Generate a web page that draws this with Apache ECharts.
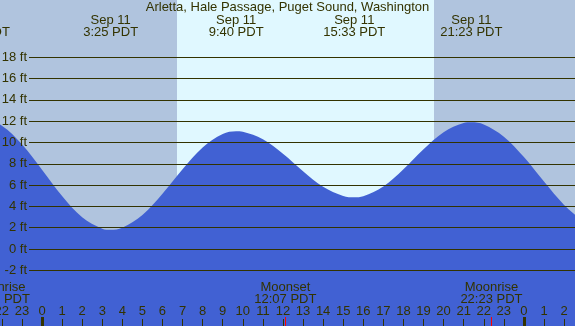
<!DOCTYPE html>
<html><head><meta charset="utf-8">
<script src="https://cdn.jsdelivr.net/npm/echarts@6/dist/echarts.min.js"></script>
<style>html,body{margin:0;padding:0;background:#B0C4DE}#c{width:575px;height:326px}</style>
</head><body><div id="c"></div>
<script>
const titleText = "Arletta, Hale Passage, Puget Sound, Washington";
// tide heights (ft), at hours relative to Sep 11 00:00
const tideHours = [-3, -2, -1, 0, 1, 2, 3, 3.417, 4, 5, 6, 7, 8, 9, 9.667, 10, 11, 12, 13, 14, 15, 15.55, 16, 17, 18, 19, 20, 21, 21.383, 22, 23, 24, 25, 26, 27];
const tideFeet  = [12.3, 11.58, 9.83, 7.45, 4.98, 2.98, 1.91, 1.8, 2.0, 3.19, 5.18, 7.48, 9.52, 10.79, 11.05, 11.0, 10.3, 8.94, 7.31, 5.85, 4.98, 4.85, 4.95, 5.87, 7.5, 9.37, 10.97, 11.83, 11.9, 11.7, 10.55, 8.63, 6.33, 4.14, 2.52];
const extremeHours = [-3.15, 3.417, 9.667, 15.55, 21.383];
const extremeDates = ["Sep 10", "Sep 11", "Sep 11", "Sep 11", "Sep 11"];
const extremeTimes = ["20:51 PDT", "3:25 PDT", "9:40 PDT", "15:33 PDT", "21:23 PDT"];
const moonHours = [-2.15, 12.117, 22.383];
const moonEvents = ["Moonrise", "Moonset", "Moonrise"];
const moonTimes = ["21:51 PDT", "12:07 PDT", "22:23 PDT"];
const daylight = [6.71, 19.52];
const midnightHours = [0, 24];

const FONT = '"Liberation Sans", Arial, sans-serif';
const TXT = '#333300';
const chart = echarts.init(document.getElementById('c'), null, {renderer: 'canvas'});
const pxPerHour = 20.08, pxPerFt = 10.65;
const xMin = -3, xMax = 27;
const zeroX = 42, zeroY = 249, H = 326;

chart.setOption({
  animation: false,
  backgroundColor: '#B0C4DE',
  title: {text: titleText, left: 'center', top: 0, padding: [1, 0, 0, 0],
    textStyle: {fontSize: 13, fontWeight: 'normal', color: TXT, fontFamily: FONT}},
  grid: [
    {left: zeroX + xMin * pxPerHour, width: (xMax - xMin) * pxPerHour, top: 0, height: H,
      containLabel: false, outerBoundsMode: 'none'},
    {left: 29, width: 575 - 29, top: zeroY - 18 * pxPerFt, height: 20 * pxPerFt,
      containLabel: false, outerBoundsMode: 'none'}
  ],
  xAxis: [
    {type: 'value', gridIndex: 0, min: xMin, max: xMax, interval: 1, z: 5, position: 'bottom',
      axisLine: {show: false, onZero: false},
      axisTick: {show: true, inside: true, length: 7, lineStyle: {color: TXT, width: 1}},
      axisLabel: {inside: true, margin: 8, color: TXT, fontSize: 13, fontFamily: FONT,
        showMinLabel: true, showMaxLabel: true, hideOverlap: false,
        formatter: v => String(((v % 24) + 24) % 24)},
      splitLine: {show: false}},
    {type: 'value', gridIndex: 1, min: 0, max: 1, show: false}
  ],
  yAxis: [
    {type: 'value', gridIndex: 0, min: -(H - zeroY) / pxPerFt, max: zeroY / pxPerFt, show: false},
    {type: 'value', gridIndex: 1, min: -2, max: 18, interval: 2, z: 5,
      axisLine: {show: false, onZero: false}, axisTick: {show: false},
      axisLabel: {margin: 2, color: TXT, fontSize: 13, fontFamily: FONT, formatter: '{value} ft'},
      splitLine: {show: true, lineStyle: {color: TXT, width: 1}}}
  ],
  series: [
    {type: 'custom', xAxisIndex: 0, yAxisIndex: 0, z: 0, silent: true,
      data: [daylight],
      renderItem: (params, api) => {
        const cs = params.coordSys;
        const x1 = Math.round(api.coord([api.value(0), 0])[0]);
        const x2 = Math.round(api.coord([api.value(1), 0])[0]);
        return {type: 'rect', shape: {x: x1, y: cs.y, width: x2 - x1, height: cs.height},
          style: {fill: '#E0F8FF'}};
      }},
    {type: 'line', xAxisIndex: 0, yAxisIndex: 0, z: 2, silent: true,
      data: tideHours.map((h, i) => [h, tideFeet[i]]),
      smooth: 0.35, showSymbol: false,
      lineStyle: {width: 0},
      areaStyle: {color: '#4161D3', opacity: 1, origin: 'start'}},
    {type: 'custom', xAxisIndex: 0, yAxisIndex: 0, z: 6, silent: true,
      data: midnightHours.map(h => [h]),
      renderItem: (params, api) => {
        const cs = params.coordSys;
        const x = Math.round(api.coord([api.value(0), 0])[0]);
        return {type: 'rect', shape: {x: x - 1, y: cs.y + cs.height - 9, width: 3, height: 9}, style: {fill: TXT}};
      }},
    {type: 'custom', xAxisIndex: 0, yAxisIndex: 0, z: 6, silent: true,
      data: moonHours.map(h => [h]),
      renderItem: (params, api) => {
        const cs = params.coordSys;
        const x = Math.round(api.coord([api.value(0), 0])[0]) + 0.5;
        return {type: 'line', shape: {x1: x, y1: cs.y + cs.height - 9, x2: x, y2: cs.y + cs.height},
          style: {stroke: '#FF0000', lineWidth: 1}};
      }},
    {type: 'custom', xAxisIndex: 0, yAxisIndex: 0, z: 7, silent: true,
      data: extremeHours.map((h, i) => [h, i]),
      renderItem: (params, api) => {
        const i = api.value(1);
        const x = api.coord([api.value(0), 0])[0];
        return {type: 'text', style: {text: extremeDates[i] + '\n' + extremeTimes[i], x: x, y: 26,
          align: 'center', verticalAlign: 'middle', lineHeight: 12, fill: TXT, font: '13px ' + FONT}};
      }},
    {type: 'custom', xAxisIndex: 0, yAxisIndex: 0, z: 7, silent: true,
      data: moonHours.map((h, i) => [h, i]),
      renderItem: (params, api) => {
        const i = api.value(1);
        const x = api.coord([api.value(0), 0])[0];
        return {type: 'text', style: {text: moonEvents[i] + '\n' + moonTimes[i], x: x, y: 293,
          align: 'center', verticalAlign: 'middle', lineHeight: 12, fill: TXT, font: '13px ' + FONT}};
      }}
  ]
});
</script></body></html>
